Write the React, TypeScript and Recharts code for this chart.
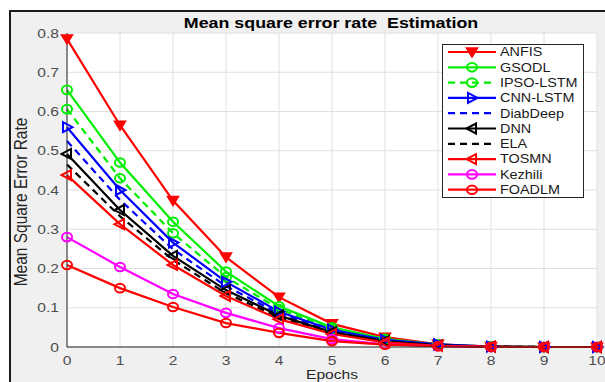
import React from 'react';
import { LineChart, Line, XAxis, YAxis, CartesianGrid, Legend } from 'recharts';

const epochs = [0, 1, 2, 3, 4, 5, 6, 7, 8, 9, 10];
const anfis = [0.785, 0.565, 0.373, 0.229, 0.127, 0.059, 0.025, 0.007, 0.001, 0, 0];
const gsodl = [0.655, 0.47, 0.319, 0.192, 0.104, 0.05, 0.021, 0.006, 0.001, 0, 0];
const ipsoLstm = [0.606, 0.43, 0.29, 0.178, 0.097, 0.046, 0.019, 0.005, 0.001, 0, 0];
const cnnLstm = [0.56, 0.4, 0.266, 0.166, 0.09, 0.044, 0.018, 0.007, 0.001, 0, 0];
const diabDeep = [0.525, 0.375, 0.249, 0.155, 0.085, 0.041, 0.016, 0.004, 0.001, 0, 0];
const dnn = [0.492, 0.349, 0.232, 0.145, 0.08, 0.038, 0.015, 0.004, 0.001, 0, 0];
const ela = [0.465, 0.333, 0.222, 0.137, 0.076, 0.036, 0.014, 0.004, 0.001, 0, 0];
const tosmn = [0.438, 0.313, 0.209, 0.13, 0.071, 0.033, 0.012, 0.003, 0.001, 0, 0];
const kezhili = [0.28, 0.204, 0.135, 0.087, 0.048, 0.02, 0.007, 0.002, 0, 0, 0];
const foadlm = [0.209, 0.15, 0.102, 0.061, 0.036, 0.015, 0.006, 0.002, 0, 0, 0];

const yTicks = [0, 0.1, 0.2, 0.3, 0.4, 0.5, 0.6, 0.7, 0.8];
const xTicks = [0, 1, 2, 3, 4, 5, 6, 7, 8, 9, 10];

type Marker = 'vdown' | 'circle' | 'right' | 'left' | 'none';
interface Series {
  key: string;
  name: string;
  values: number[];
  color: string;
  dashed: boolean;
  marker: Marker;
}

const series: Series[] = [
  { key: 'anfis', name: 'ANFIS', values: anfis, color: '#ff0000', dashed: false, marker: 'vdown' },
  { key: 'gsodl', name: 'GSODL', values: gsodl, color: '#00ee00', dashed: false, marker: 'circle' },
  { key: 'ipso', name: 'IPSO-LSTM', values: ipsoLstm, color: '#00ee00', dashed: true, marker: 'circle' },
  { key: 'cnn', name: 'CNN-LSTM', values: cnnLstm, color: '#0000ff', dashed: false, marker: 'right' },
  { key: 'diab', name: 'DiabDeep', values: diabDeep, color: '#0000ff', dashed: true, marker: 'none' },
  { key: 'dnn', name: 'DNN', values: dnn, color: '#000000', dashed: false, marker: 'left' },
  { key: 'ela', name: 'ELA', values: ela, color: '#000000', dashed: true, marker: 'none' },
  { key: 'tosmn', name: 'TOSMN', values: tosmn, color: '#ff0000', dashed: false, marker: 'left' },
  { key: 'kezhili', name: 'Kezhili', values: kezhili, color: '#ff00ff', dashed: false, marker: 'circle' },
  { key: 'foadlm', name: 'FOADLM', values: foadlm, color: '#ff0000', dashed: false, marker: 'circle' },
];

const data = epochs.map((e, i) => {
  const row: Record<string, number> = { epoch: e };
  series.forEach((s) => {
    row[s.key] = s.values[i];
  });
  return row;
});

function markerShape(marker: Marker, cx: number, cy: number, color: string, key?: any) {
  const sw = 2;
  if (marker === 'vdown') {
    return (
      <path key={key} d={`M${cx - 5.5},${cy - 4} L${cx + 5.5},${cy - 4} L${cx},${cy + 5} Z`} fill={color} stroke={color} strokeWidth={1.5} />
    );
  }
  if (marker === 'circle') {
    return <ellipse key={key} cx={cx} cy={cy} rx={5} ry={4.3} fill="none" stroke={color} strokeWidth={sw} />;
  }
  if (marker === 'right') {
    return <path key={key} d={`M${cx - 4},${cy - 5} L${cx - 4},${cy + 5} L${cx + 5.5},${cy} Z`} fill="none" stroke={color} strokeWidth={sw} />;
  }
  if (marker === 'left') {
    return <path key={key} d={`M${cx + 4},${cy - 5} L${cx + 4},${cy + 5} L${cx - 5.5},${cy} Z`} fill="none" stroke={color} strokeWidth={sw} />;
  }
  return <g key={key} />;
}

const makeDot = (s: Series) => (props: any) => {
  const { cx, cy, index } = props;
  if (cx == null || cy == null) return <g key={`d-${s.key}-${index}`} />;
  return markerShape(s.marker, cx, cy, s.color, `d-${s.key}-${index}`);
};

const FONT = '"Liberation Sans", Arial, Helvetica, sans-serif';

const XTick = (props: any) => {
  const { x, y, payload } = props;
  return (
    <text transform={`translate(${x},${y + 10}) scale(1.2,1)`} textAnchor="middle" fontSize={13} fill="#4d4d4d" fontFamily={FONT}>
      {payload.value}
    </text>
  );
};

const YTick = (props: any) => {
  const { x, y, payload } = props;
  const v = payload.value;
  const label = v === 0 ? '0' : Number(v).toFixed(1);
  return (
    <text transform={`translate(${x},${y + 4.5}) scale(1.2,1)`} textAnchor="end" fontSize={13} fill="#4d4d4d" fontFamily={FONT}>
      {label}
    </text>
  );
};

const LegendBox = () => {
  const rowH = 15.3;
  return (
    <svg width={143} height={155} style={{ display: 'block' }}>
      <rect x={0.5} y={0.5} width={141} height={153} fill="#ffffff" stroke="#262626" strokeWidth={1} />
      {series.map((s, i) => {
        const cy = 8 + i * rowH;
        return (
          <g key={s.key}>
            <line x1={6} x2={54} y1={cy} y2={cy} stroke={s.color} strokeWidth={2.2} strokeDasharray={s.dashed ? '7 5' : undefined} />
            {markerShape(s.marker, 30, cy, s.color)}
            <text transform={`translate(58,${cy + 4.3}) scale(1.2,1)`} fontSize={12} fill="#1a1a1a" fontFamily={FONT}>
              {s.name}
            </text>
          </g>
        );
      })}
    </svg>
  );
};

export default function App() {
  return (
    <div style={{ position: 'absolute', left: 0, top: 0, width: 605, height: 382, overflow: 'hidden', background: '#ffffff' }}>
      <div
        style={{
          position: 'absolute',
          left: 9,
          top: 10,
          width: 620,
          height: 400,
          borderLeft: '2px solid #1a1a1a',
          borderTop: '2px solid #1a1a1a',
          background: '#f0f0f0',
        }}
      />
      <div style={{ position: 'absolute', left: 0, top: 0 }}>
        <LineChart width={605} height={382} data={data} margin={{ top: 33, right: 8, left: 0, bottom: 0 }}>
          <CartesianGrid stroke="#e0e0e0" strokeWidth={1} fill="#ffffff" fillOpacity={1} />
          <XAxis
            dataKey="epoch"
            type="number"
            domain={[0, 10]}
            ticks={xTicks}
            height={35}
            tickLine={false}
            tickSize={6}
            axisLine={{ stroke: '#262626', strokeWidth: 1 }}
            tick={<XTick />}
            interval={0}
          />
          <XAxis
            xAxisId="top"
            orientation="top"
            dataKey="epoch"
            type="number"
            domain={[0, 10]}
            height={0}
            tick={false}
            tickLine={false}
            axisLine={{ stroke: '#262626', strokeWidth: 1 }}
          />
          <YAxis
            type="number"
            domain={[0, 0.8]}
            ticks={yTicks}
            width={67}
            tickLine={false}
            tickSize={6}
            axisLine={{ stroke: '#262626', strokeWidth: 1 }}
            tick={<YTick />}
            interval={0}
          />
          <YAxis
            yAxisId="right"
            orientation="right"
            type="number"
            domain={[0, 0.8]}
            width={0}
            tick={false}
            tickLine={false}
            axisLine={{ stroke: '#262626', strokeWidth: 1 }}
          />
          {series.map((s) => (
            <Line
              key={s.key}
              dataKey={s.key}
              name={s.name}
              type="linear"
              stroke={s.color}
              strokeWidth={2.2}
              strokeDasharray={s.dashed ? '7 5' : undefined}
              dot={s.marker === 'none' ? false : makeDot(s)}
              activeDot={false}
              isAnimationActive={false}
            />
          ))}
          <Legend
            layout="horizontal"
            verticalAlign="middle"
            align="center"
            wrapperStyle={{ left: 442, top: 44, width: 143, height: 155 }}
            content={() => <LegendBox />}
          />
        </LineChart>
      </div>
      <svg width={605} height={382} style={{ position: 'absolute', left: 0, top: 0, pointerEvents: 'none' }}>
        <text transform="translate(331,28) scale(1.19,1)" textAnchor="middle" fontSize={15} fontWeight="bold" fill="#000" fontFamily={FONT}>
          Mean square error rate{'\u00a0\u00a0'}Estimation
        </text>
        <text transform="translate(27,202) scale(1.2,1) rotate(-90)" textAnchor="middle" fontSize={15.5} fill="#262626" fontFamily={FONT}>
          Mean Square Error Rate
        </text>
        <text transform="translate(332,379) scale(1.2,1)" textAnchor="middle" fontSize={13} fill="#262626" fontFamily={FONT}>
          Epochs
        </text>
      </svg>
    </div>
  );
}
